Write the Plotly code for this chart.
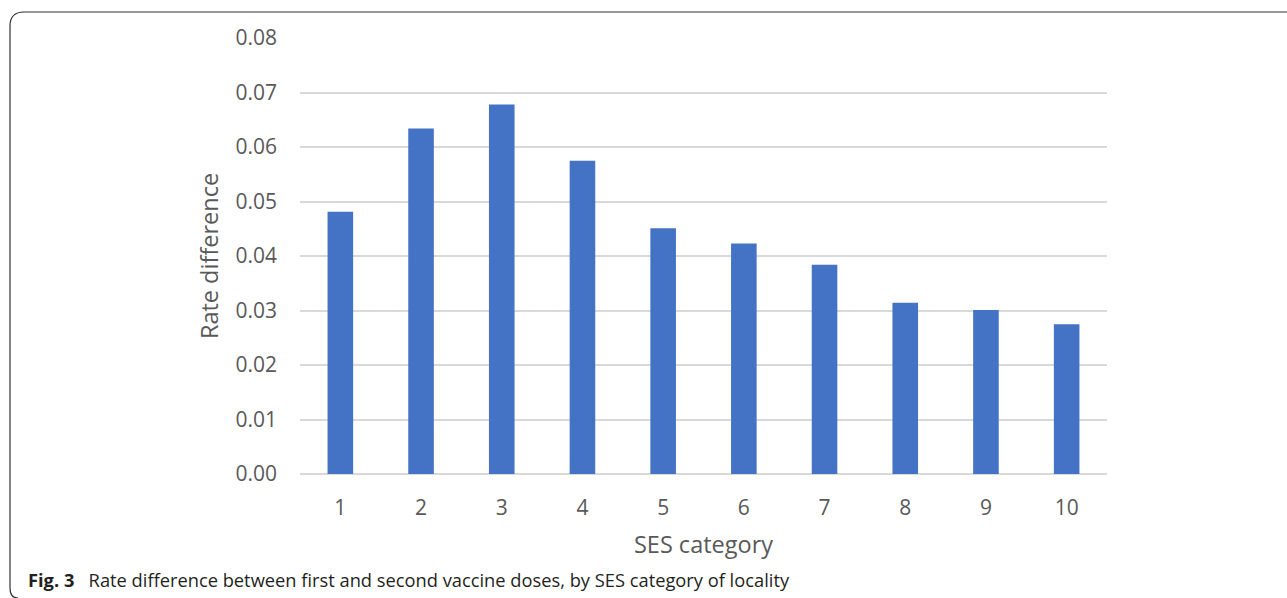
import plotly.graph_objects as go

# SES category of locality (1 = lowest) and rate difference between doses
ses_categories = ["1", "2", "3", "4", "5", "6", "7", "8", "9", "10"]
rate_difference = [0.0481, 0.0634, 0.0678, 0.0575, 0.0451, 0.0423, 0.0384, 0.0314, 0.0301, 0.0275]
y_ticks = [0.00, 0.01, 0.02, 0.03, 0.04, 0.05, 0.06, 0.07, 0.08]

W, H = 1287, 598
L, R, T, B = 300, 180, 38, 124
plot_w = W - L - R
plot_h = H - T - B


def px(x):
    return (x - L) / plot_w


def py(y):
    return (H - B - y) / plot_h


fig = go.Figure(
    go.Bar(
        x=ses_categories,
        y=rate_difference,
        marker=dict(color="#4472C4", line=dict(width=0)),
    )
)

tick_font = dict(family="Open Sans, sans-serif", size=21, color="#595959")
title_font = dict(family="Open Sans, sans-serif", size=23.5, color="#595959")

fig.update_layout(
    width=W,
    height=H,
    margin=dict(l=L, r=R, t=T, b=B),
    paper_bgcolor="white",
    plot_bgcolor="white",
    bargap=0.683,
    showlegend=False,
    xaxis=dict(
        type="category",
        tickfont=tick_font,
        showgrid=False,
        showline=False,
        zeroline=False,
        ticks="",
        ticklabelstandoff=19,
        title=dict(text="SES category", font=title_font, standoff=16),
    ),
    yaxis=dict(
        range=[0, 0.08],
        tickvals=y_ticks,
        tickformat=".2f",
        tickfont=tick_font,
        showgrid=True,
        gridcolor="#d9d9d9",
        gridwidth=1.5,
        zeroline=True,
        zerolinecolor="#d9d9d9",
        zerolinewidth=1.5,
        showline=False,
        ticks="",
        ticklabelstandoff=22,
        title=dict(text="Rate difference", font=title_font, standoff=10),
    ),
)

# Rounded frame around the figure panel (open on the right)
frame = (
    f"M {px(1300)},{py(12)} L {px(24)},{py(12)} "
    f"Q {px(10)},{py(12)} {px(10)},{py(26)} "
    f"L {px(10)},{py(588)} Q {px(10)},{py(598)} {px(18)},{py(598)}"
)
fig.add_shape(
    type="path",
    path=frame,
    xref="paper",
    yref="paper",
    line=dict(color="#333333", width=1.2),
)

fig.add_annotation(
    text="<b>Fig. 3</b>   Rate difference between first and second vaccine doses, by SES category of locality",
    xref="paper",
    yref="paper",
    x=px(26),
    y=py(579),
    xanchor="left",
    yanchor="middle",
    showarrow=False,
    font=dict(family="Open Sans, sans-serif", size=18.3, color="#231f20"),
)

fig.write_html("out.html")
